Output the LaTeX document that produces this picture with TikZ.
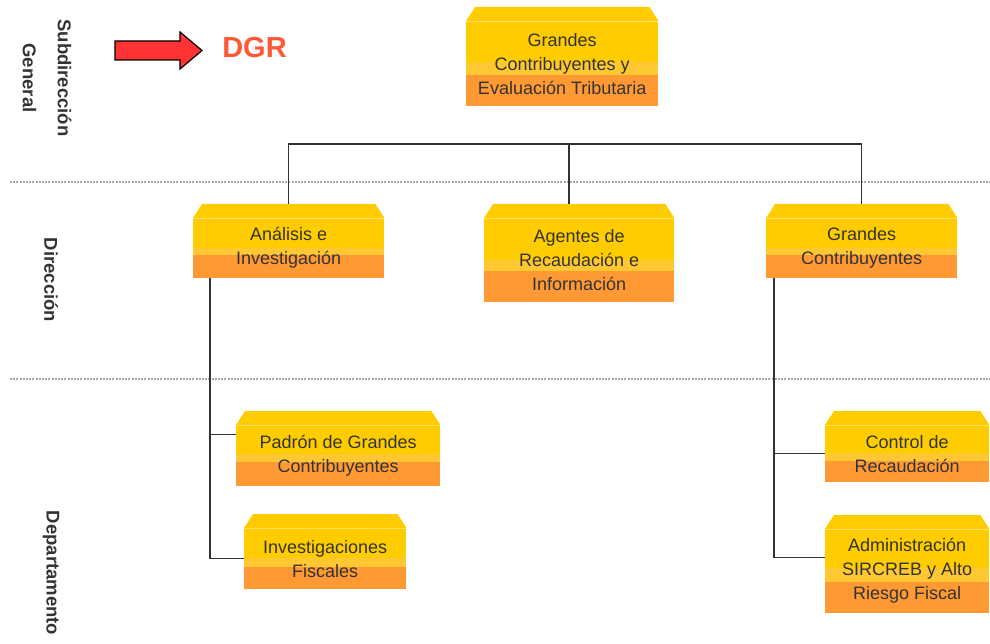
\documentclass[tikz,border=0pt]{standalone}
\usepackage{fontspec}
\setmainfont{Liberation Sans}
\usetikzlibrary{calc}

\definecolor{ylw}{RGB}{255,204,0}
\definecolor{ylwband}{RGB}{255,200,51}
\definecolor{orng}{RGB}{255,153,51}
\definecolor{txtgray}{RGB}{51,51,51}
\definecolor{dgrred}{RGB}{255,88,52}
\definecolor{arrowred}{RGB}{255,51,51}

\newcommand{\unitfont}{\fontsize{18}{24}\selectfont}
\newcommand{\sidefont}{\fontsize{18.5}{35}\selectfont\bfseries}

\tikzset{
	unit/.style n args={4}{minimum width=#1, minimum height=#2, inner sep=0pt,
		anchor=north west, align=center, font=\unitfont, text=txtgray,
		path picture={
			\fill[ylw] (path picture bounding box.south west) rectangle (path picture bounding box.north east);
			\fill[ylwband] (path picture bounding box.south west) rectangle ([yshift=#4]path picture bounding box.south east);
			\fill[orng] (path picture bounding box.south west) rectangle ([yshift=#3]path picture bounding box.south east);
		}},
	link/.style={draw=txtgray, line width=1.4pt},
	level/.style={draw=gray!70, line width=1.3pt, dash pattern=on 2pt off 1.2pt},
	side/.style={rotate=-90, align=center, font=\sidefont, text=txtgray}
}

\begin{document}
\begin{tikzpicture}[x=1pt, y=-1pt]
	\useasboundingbox (0,0) rectangle (990,644);

	% Draw the level separators
	\draw[level] (10,182) -- (990,182);
	\draw[level] (10,379) -- (990,379);

	% Draw the side labels
	\node[side] (lblsub) at (47,78) {Subdirección\\General};
	\node[side] (lbldir) at (51,280) {Dirección};
	\node[side] (lbldep) at (51,573) {Departamento};

	% Draw the DGR pointer
	\draw[fill=arrowred, draw=black, line width=1.2pt, line join=miter] (115,41) -- (180,41) -- (180,32) -- (202,50.5) -- (180,69) -- (180,60) -- (115,60) -- cycle;
	\node[font=\fontsize{29}{34}\selectfont\bfseries, text=dgrred] (dgr) at (254.5,48) {DGR};

	% Draw the units
	\node[unit={192pt}{85pt}{31pt}{44pt}] (gce) at (466,21) {Grandes\\Contribuyentes y\\Evaluación Tributaria};
	\node[unit={191pt}{60pt}{23pt}{30pt}] (ana) at (193,218) {Análisis e\\Investigación};
	\node[unit={190pt}{84pt}{31pt}{42pt}] (age) at (484,218) {Agentes de\\Recaudación e\\Información};
	\node[unit={191pt}{60pt}{23pt}{30pt}] (gc) at (766,218) {Grandes\\Contribuyentes};
	\node[unit={204pt}{61pt}{24pt}{32pt}] (pad) at (236,425) {Padrón de Grandes\\Contribuyentes};
	\node[unit={162pt}{61pt}{22pt}{31pt}] (inv) at (244,528) {Investigaciones\\Fiscales};
	\node[unit={164pt}{57pt}{21pt}{29pt}] (ctl) at (825,425) {Control de\\Recaudación};
	\node[unit={164pt}{84pt}{31pt}{45pt}] (adm) at (825,529) {Administración\\SIRCREB y Alto\\Riesgo Fiscal};

	% Draw the bevelled tops
	\foreach \n in {gce,ana,age,gc,pad,inv,ctl,adm}
	{
		\fill[ylw] (\n.north west) -- ([xshift=9pt,yshift=14pt]\n.north west) -- ([xshift=-9pt,yshift=14pt]\n.north east) -- (\n.north east) -- cycle;
		\draw[ylw!60!white, line width=0.8pt] (\n.north west) -- (\n.north east);
		\coordinate (\n-top) at ([yshift=14pt]\n.north);
	}

	% Draw the connectors
	\coordinate (bus) at (569,144);
	\draw[link] (ana-top) |- (bus) -| (gc-top);
	\draw[link] (bus) -- (bus |- age-top);

	\coordinate (ltrunk) at ([xshift=17pt]ana.south west);
	\draw[link] (ltrunk) |- (inv.west);
	\draw[link] ([yshift=21pt]pad.west) -| (ltrunk);

	\coordinate (rtrunk) at ([xshift=8pt]gc.south west);
	\draw[link] (rtrunk) |- ([yshift=14pt]adm.west);
	\draw[link] (ctl.west) -| (rtrunk);

\end{tikzpicture}
\end{document}
